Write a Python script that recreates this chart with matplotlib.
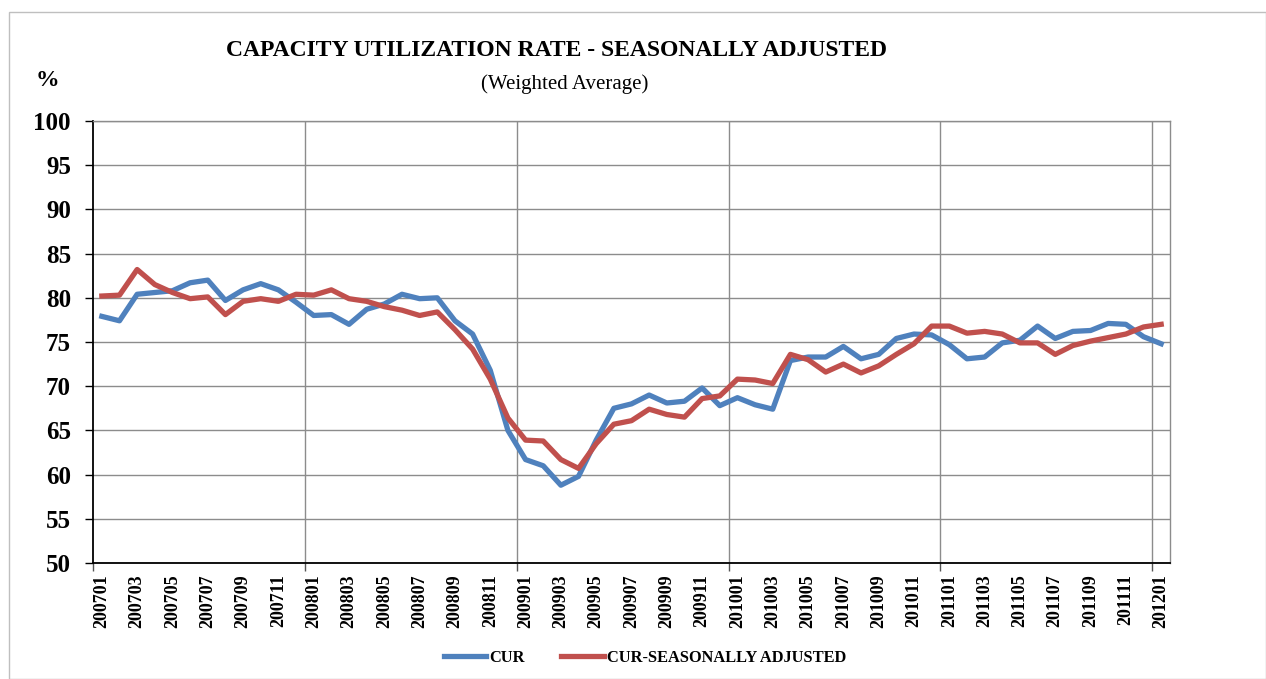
import numpy as np
import matplotlib.pyplot as plt
from matplotlib.patches import Rectangle

# months 200701 .. 201201
periods = [f"{y}{m:02d}" for y in range(2007, 2012) for m in range(1, 13)] + ["201201"]

cur = [77.9, 77.4, 80.4, 80.6, 80.8, 81.7, 82.0, 79.7, 80.9, 81.6, 80.9, 79.5,
       78.0, 78.1, 77.0, 78.7, 79.3, 80.4, 79.9, 80.0, 77.4, 75.9, 71.8, 65.0,
       61.7, 61.0, 58.8, 59.8, 63.9, 67.5, 68.0, 69.0, 68.1, 68.3, 69.8, 67.8,
       68.7, 67.9, 67.4, 72.9, 73.3, 73.3, 74.5, 73.1, 73.6, 75.4, 75.9, 75.8,
       74.7, 73.1, 73.3, 74.9, 75.2, 76.8, 75.4, 76.2, 76.3, 77.1, 77.0, 75.6,
       74.8]
cur_sa = [80.2, 80.3, 83.2, 81.5, 80.6, 79.9, 80.1, 78.1, 79.6, 79.9, 79.6, 80.4,
          80.3, 80.9, 79.9, 79.6, 79.0, 78.6, 78.0, 78.4, 76.4, 74.2, 70.8, 66.4,
          63.9, 63.8, 61.7, 60.7, 63.5, 65.7, 66.1, 67.4, 66.8, 66.5, 68.6, 68.9,
          70.8, 70.7, 70.3, 73.6, 73.0, 71.6, 72.5, 71.5, 72.3, 73.6, 74.8, 76.8,
          76.8, 76.0, 76.2, 75.9, 74.9, 74.9, 73.6, 74.6, 75.1, 75.5, 75.9, 76.7,
          77.0]

blue = '#4F81BD'
red = '#C0504D'
grid_col = '#8C8C8C'

plt.rcParams['font.family'] = ['Liberation Serif', 'DejaVu Serif']
plt.rcParams['font.weight'] = 'bold'

fig = plt.figure(figsize=(12.66, 6.79), dpi=100)
ax = fig.add_axes([93/1266, 1-563/679, (1170-93)/1266, (563-121)/679])

x = np.arange(len(periods))
ax.plot(x, cur, color=blue, lw=3.8, label='CUR', solid_joinstyle='round')
ax.plot(x, cur_sa, color=red, lw=3.8, label='CUR-SEASONALLY ADJUSTED', solid_joinstyle='round')

ax.set_xlim(-0.5, len(periods) - 0.5)
ax.set_ylim(50, 100)
ax.set_yticks(np.arange(50, 101, 5))
ax.tick_params(axis='y', labelsize=18, length=6, width=1, direction='out', pad=10)
for t in ax.get_yticklabels():
    t.set_fontweight('bold')

# year boundaries as major ticks/gridlines, labels every 2 months as minor ticks
bounds = np.arange(11.5, len(periods), 12)
ax.set_xticks(np.concatenate([[-0.5], bounds]))
ax.set_xticklabels([])
ax.tick_params(axis='x', which='major', length=6, width=1, colors='#555555')
ax.set_xticks(x[::2], minor=True)
ax.set_xticklabels(periods[::2], minor=True, rotation=90, fontsize=13, fontweight='bold')
ax.tick_params(axis='x', which='minor', length=0, pad=8)

ax.yaxis.grid(True, color=grid_col, lw=1)
for b in bounds:
    ax.axvline(b, color=grid_col, lw=1, zorder=0)
ax.set_axisbelow(True)

for s in ['top', 'right']:
    ax.spines[s].set_color(grid_col)
    ax.spines[s].set_linewidth(1)
ax.spines['left'].set_color('black')
ax.spines['bottom'].set_color('black')
ax.spines['left'].set_linewidth(1.3)
ax.spines['bottom'].set_linewidth(1.3)

fig.text(556/1266, 1-50/679, 'CAPACITY UTILIZATION RATE - SEASONALLY ADJUSTED',
         ha='center', va='center', fontsize=17, fontweight='bold')
fig.text(565/1266, 1-84/679, '(Weighted Average)', ha='center', va='center',
         fontsize=15, fontweight='normal')
fig.text(47/1266, 1-80/679, '%', ha='center', va='center', fontsize=17, fontweight='bold')

fig.legend(loc='center', bbox_to_anchor=(645/1266, 1-658/679), ncol=2, frameon=False,
           fontsize=11.8, handlelength=2.6, columnspacing=2.2, handletextpad=0.2)

fig.patches.append(Rectangle((9/1266, 0), 1 - 9/1266, 1 - 12/679, transform=fig.transFigure,
                             fill=False, edgecolor='#BFBFBF', lw=1))

fig.savefig('out.png', dpi=100)
